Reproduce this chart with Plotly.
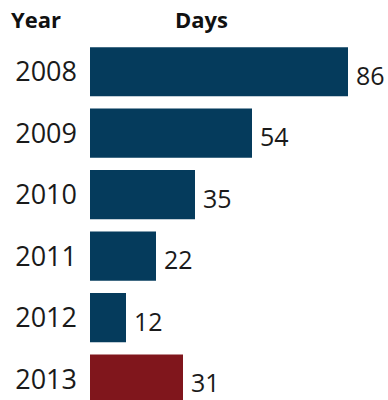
import plotly.graph_objects as go

years = ["2008", "2009", "2010", "2011", "2012", "2013"]
days = [86, 54, 35, 22, 12, 31]
colors = ["#053B5C", "#053B5C", "#053B5C", "#053B5C", "#053B5C", "#80161C"]

FONT = "Open Sans"
W, H = 388, 400
L, T = 90, 41
PW = W - L

fig = go.Figure()
fig.add_trace(go.Bar(
    x=days, y=years, orientation="h",
    marker=dict(color=colors, line=dict(width=0)),
    hoverinfo="skip",
))

for i, d in enumerate(days):
    fig.add_annotation(x=d, y=i, xref="x", yref="y", text=str(d), showarrow=False,
                       xanchor="left", xshift=7, yshift=-3, borderpad=0,
                       font=dict(family=FONT, size=25, color="#1a1a1a"))

fig.add_annotation(xref="paper", yref="paper", x=-L/PW, xshift=10, y=1, yshift=6,
                   xanchor="left", yanchor="bottom", text="<b>Year</b>", showarrow=False,
                   borderpad=0, font=dict(family=FONT, size=22, color="#111111"))
fig.add_annotation(xref="paper", yref="paper", x=(201-L)/PW, y=1, yshift=6,
                   xanchor="center", yanchor="bottom", text="<b>Days</b>", showarrow=False,
                   borderpad=0, font=dict(family=FONT, size=22, color="#111111"))

fig.update_layout(
    width=W, height=H,
    margin=dict(l=L, r=0, t=T, b=0, pad=0, autoexpand=False),
    paper_bgcolor="white", plot_bgcolor="white",
    bargap=0.2, showlegend=False,
    xaxis=dict(range=[0, PW/3], visible=False, fixedrange=True, automargin=False),
    yaxis=dict(type="category", range=[5.34, -0.5], showgrid=False, zeroline=False,
               showline=False, ticks="", ticklabelstandoff=12, automargin=False,
               tickfont=dict(family=FONT, size=27, color="#1a1a1a"), fixedrange=True),
)

fig.write_html("out.html", config={"displayModeBar": False},
               post_script="document.body.style.margin='0';document.body.style.overflow='hidden';")
